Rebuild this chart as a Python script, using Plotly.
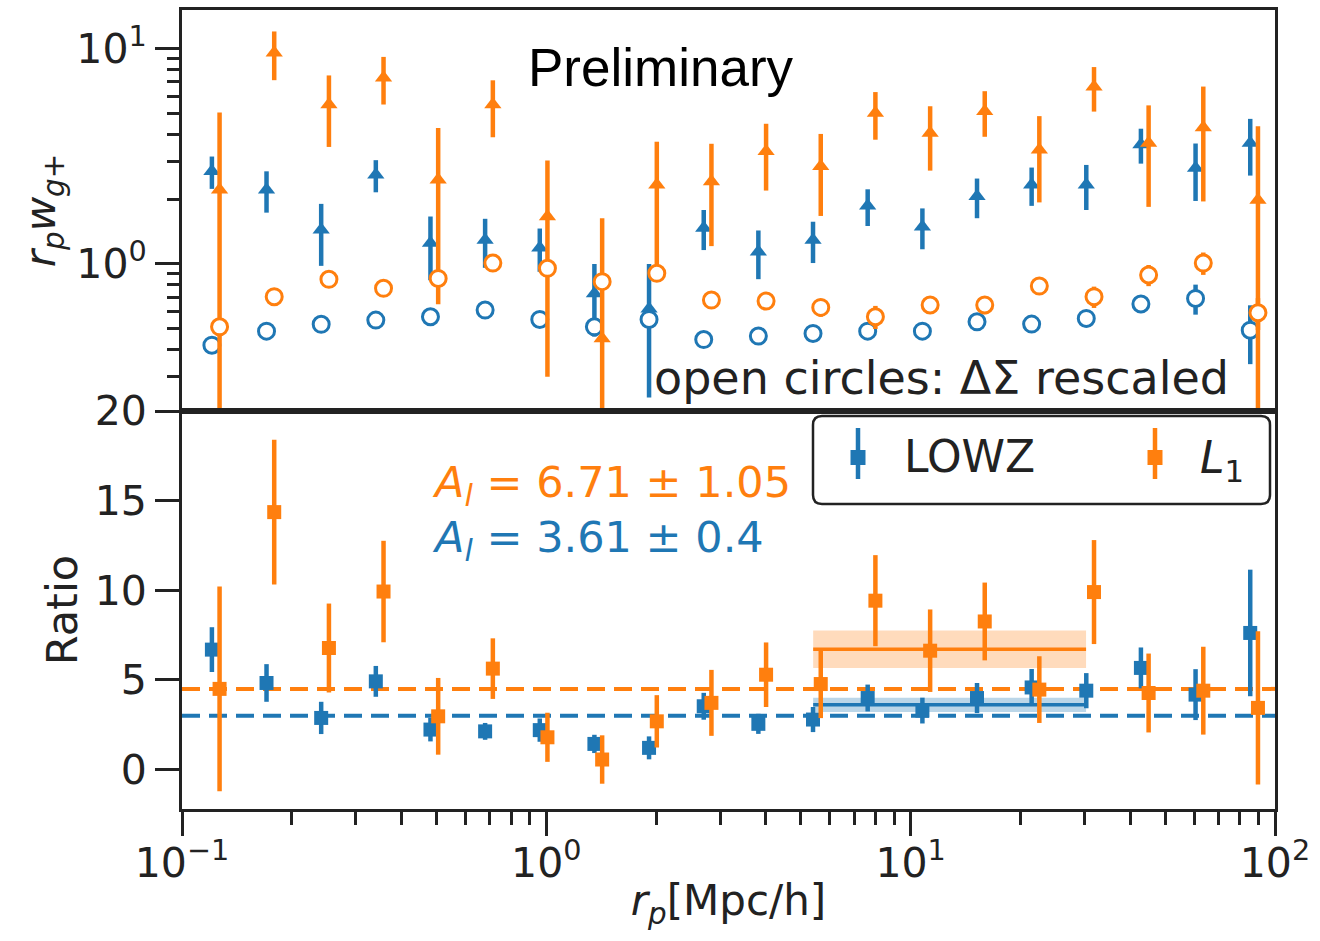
import plotly.graph_objects as go

BLUE = "#1f77b4"
ORANGE = "#ff7f0e"
INK = "#222222"
FONT = "DejaVu Sans"

# projected separation bin centres [Mpc/h]; L1 points sit slightly to the right
rp_lowz = [0.1208, 0.1706, 0.2410, 0.3404, 0.4808, 0.6792, 0.9594, 1.355, 1.914, 2.704,
           3.819, 5.395, 7.621, 10.77, 15.21, 21.48, 30.34, 42.85, 60.53, 85.51]
rp_l1 = [0.1268, 0.1791, 0.2531, 0.3574, 0.5048, 0.7132, 1.007, 1.423, 2.010, 2.839,
         4.010, 5.665, 8.002, 11.31, 15.97, 22.55, 31.86, 44.99, 63.56, 89.79]

# r_p w_g+ (filled triangles)
wgp_lowz = [2.69, 2.21, 1.44, 2.59, 1.25, 1.29, 1.19, 0.73, 0.62, 1.47,
            1.14, 1.29, 1.86, 1.49, 2.06, 2.33, 2.33, 3.58, 2.79, 3.64]
wgp_lowz_err = [0.46, 0.48, 0.46, 0.44, 0.41, 0.33, 0.27, 0.27, 0.38, 0.31,
                0.29, 0.28, 0.36, 0.32, 0.43, 0.47, 0.55, 0.66, 0.83, 1.07]
wgp_l1 = [2.21, 9.55, 5.49, 7.31, 2.46, 5.49, 1.66, 0.451, 2.33, 2.41,
          3.33, 2.84, 5.02, 4.05, 5.11, 3.39, 6.64, 3.64, 4.30, 1.98]
wgp_l1_err = [2.83, 2.43, 2.00, 1.82, 1.81, 1.62, 1.36, 1.18, 1.36, 1.20,
              1.14, 1.17, 1.25, 1.34, 1.22, 1.46, 1.55, 1.80, 2.35, 2.37]

# Delta Sigma rescaled (open circles)
ds_lowz = [0.420, 0.488, 0.525, 0.549, 0.569, 0.611, 0.553, 0.511, 0.553, 0.446,
           0.463, 0.476, 0.488, 0.488, 0.539, 0.526, 0.559, 0.652, 0.692, 0.493]
ds_lowz_err = [0.02, 0.02, 0.02, 0.02, 0.02, 0.02, 0.02, 0.02, 0.02, 0.02,
               0.02, 0.02, 0.02, 0.02, 0.03, 0.03, 0.05, 0.06, 0.11, 0.15]
ds_l1 = [0.511, 0.705, 0.849, 0.771, 0.857, 1.010, 0.955, 0.828, 0.905, 0.680,
         0.673, 0.629, 0.569, 0.645, 0.645, 0.790, 0.705, 0.889, 1.010, 0.594]
ds_l1_err = [0.04, 0.06, 0.05, 0.06, 0.06, 0.05, 0.07, 0.06, 0.06, 0.04,
             0.04, 0.06, 0.07, 0.05, 0.06, 0.05, 0.08, 0.10, 0.12, 0.10]

# ratio w_g+ / Delta Sigma (filled squares)
ratio_lowz = [6.69, 4.83, 2.88, 4.92, 2.23, 2.13, 2.20, 1.43, 1.21, 3.53,
              2.55, 2.79, 3.99, 3.29, 3.99, 4.58, 4.40, 5.67, 4.18, 7.62]
ratio_lowz_err = [1.25, 1.05, 0.90, 0.86, 0.66, 0.47, 0.65, 0.51, 0.64, 0.75,
                  0.56, 0.70, 0.75, 0.72, 0.84, 1.03, 0.98, 1.14, 1.42, 3.53]
ratio_l1 = [4.50, 14.36, 6.78, 9.93, 2.97, 5.63, 1.80, 0.56, 2.69, 3.72,
            5.29, 4.77, 9.42, 6.63, 8.26, 4.46, 9.90, 4.27, 4.40, 3.44]
ratio_l1_err = [5.71, 4.04, 2.48, 2.83, 2.14, 1.69, 1.37, 1.35, 1.46, 1.84,
                1.80, 1.90, 2.54, 2.30, 2.17, 1.86, 2.90, 2.20, 2.45, 4.27]

# amplitude fits over the large-scale range, and reference levels
fit_range = [5.4, 30.3]
A_lowz, A_lowz_err = 3.61, 0.4
A_l1, A_l1_err = 6.71, 1.05
ref_lowz = 3.0
ref_l1 = 4.5
x_full = [0.1, 100.0]

# ---- page geometry (pixels) ----
W, H = 1320, 941
L, R, T, B = 182, 45, 10, 132
PW, PH = W - L - R, H - T - B
SPLIT = 411  # y pixel of the boundary between the two panels


def px(x):
    return (x - L) / PW


def py(y):
    return (H - B - y) / PH


split = py(SPLIT)

fig = go.Figure()

ERR_W = 4.5


def err(arr, color):
    return dict(type="data", array=arr, color=color, thickness=ERR_W, width=0)


# ---- top panel ----
fig.add_trace(go.Scatter(x=rp_lowz, y=wgp_lowz, mode="markers", xaxis="x", yaxis="y",
                         marker=dict(symbol="triangle-up", size=15, color=BLUE),
                         error_y=err(wgp_lowz_err, BLUE), showlegend=False))
fig.add_trace(go.Scatter(x=rp_lowz, y=ds_lowz, mode="markers", xaxis="x", yaxis="y",
                         marker=dict(symbol="circle", size=16, color="white",
                                     line=dict(color=BLUE, width=3)),
                         error_y=err(ds_lowz_err, BLUE), showlegend=False))
fig.add_trace(go.Scatter(x=rp_l1, y=wgp_l1, mode="markers", xaxis="x", yaxis="y",
                         marker=dict(symbol="triangle-up", size=15, color=ORANGE),
                         error_y=err(wgp_l1_err, ORANGE), showlegend=False))
fig.add_trace(go.Scatter(x=rp_l1, y=ds_l1, mode="markers", xaxis="x", yaxis="y",
                         marker=dict(symbol="circle", size=16, color="white",
                                     line=dict(color=ORANGE, width=3)),
                         error_y=err(ds_l1_err, ORANGE), showlegend=False))

# ---- bottom panel ----
for level, color in [(ref_l1, ORANGE), (ref_lowz, BLUE)]:
    fig.add_trace(go.Scatter(x=x_full, y=[level, level], mode="lines", xaxis="x2", yaxis="y2",
                             line=dict(color=color, width=4, dash="18px,9px"),
                             showlegend=False, hoverinfo="skip"))

for A, dA, fill, color in [(A_l1, A_l1_err, "rgba(255,127,14,0.28)", ORANGE),
                           (A_lowz, A_lowz_err, "rgba(31,119,180,0.30)", BLUE)]:
    x0, x1 = fit_range
    fig.add_trace(go.Scatter(x=[x0, x1, x1, x0, x0], y=[A - dA, A - dA, A + dA, A + dA, A - dA],
                             mode="lines", fill="toself", fillcolor=fill,
                             line=dict(width=0), xaxis="x2", yaxis="y2",
                             showlegend=False, hoverinfo="skip"))
    fig.add_trace(go.Scatter(x=fit_range, y=[A, A], mode="lines", xaxis="x2", yaxis="y2",
                             line=dict(color=color, width=3.5),
                             showlegend=False, hoverinfo="skip"))

fig.add_trace(go.Scatter(x=rp_lowz, y=ratio_lowz, mode="markers", xaxis="x2", yaxis="y2",
                         marker=dict(symbol="square", size=14, color=BLUE),
                         error_y=err(ratio_lowz_err, BLUE), name="LOWZ", showlegend=False))
fig.add_trace(go.Scatter(x=rp_l1, y=ratio_l1, mode="markers", xaxis="x2", yaxis="y2",
                         marker=dict(symbol="square", size=14, color=ORANGE),
                         error_y=err(ratio_l1_err, ORANGE), name="L1", showlegend=False))

# ---- axes ----
TICKFONT = dict(family=FONT, size=41, color=INK)
frame = dict(showline=True, linecolor=INK, linewidth=3, mirror=True, showgrid=False,
             zeroline=False, automargin=False)

minor_x = [m * 10 ** e for e in (-1, 0, 1) for m in range(2, 10)]
minor_y = [m * 10 ** e for e in (-1, 0, 1) for m in range(2, 10)]

fig.update_layout(
    width=W, height=H,
    margin=dict(l=L, r=R, t=T, b=B),
    paper_bgcolor="white", plot_bgcolor="white",
    xaxis=dict(type="log", range=[-1, 2], domain=[0, 1], anchor="y", matches="x2",
               showticklabels=False, ticks="", **frame),
    yaxis=dict(type="log", range=[-0.682, 1.178], domain=[split, 1], anchor="x",
               tickvals=[1, 10], ticktext=["10<sup>0</sup>", "10<sup>1</sup>"],
               ticks="outside", ticklen=24, tickwidth=2.5, tickcolor=INK, tickfont=TICKFONT,
               minor=dict(tickvals=minor_y, ticks="outside", ticklen=12, tickwidth=2.5,
                          tickcolor=INK),
               title=dict(text="<i>r</i><sub><i>p</i></sub><i>w</i><sub><i>g</i>+</sub>",
                          font=dict(family=FONT, size=42, color=INK), standoff=8),
               **frame),
    xaxis2=dict(type="log", range=[-1, 2], domain=[0, 1], anchor="y2",
                tickvals=[0.1, 1, 10, 100],
                ticktext=["10<sup>\u22121</sup>", "10<sup>0</sup>", "10<sup>1</sup>",
                          "10<sup>2</sup>"],
                ticks="outside", ticklen=24, tickwidth=2.5, tickcolor=INK, tickfont=TICKFONT,
                ticklabelstandoff=-8,
                minor=dict(tickvals=minor_x, ticks="outside", ticklen=13, tickwidth=2.5,
                           tickcolor=INK),
                title=dict(text="<i>r</i><sub><i>p</i></sub>[Mpc/h]",
                           font=dict(family=FONT, size=42, color=INK), standoff=0),
                **frame),
    yaxis2=dict(range=[-2.2, 20], domain=[0, split], anchor="x2",
                tickvals=[0, 5, 10, 15, 20],
                ticks="outside", ticklen=24, tickwidth=2.5, tickcolor=INK, tickfont=TICKFONT,
                title=dict(text="Ratio", font=dict(family=FONT, size=43, color=INK),
                           standoff=4),
                **frame),
)

# ---- text ----
ann = []
ann.append(dict(text="Preliminary", x=px(661), y=py(67), xref="paper", yref="paper",
                xanchor="center", yanchor="middle", showarrow=False,
                font=dict(family="Liberation Sans, Arial", size=53, color="black")))
ann.append(dict(text="open circles: \u0394\u03a3 rescaled", x=px(652), y=py(378),
                xref="paper", yref="paper", xanchor="left", yanchor="middle",
                showarrow=False, font=dict(family=FONT, size=46, color=INK)))
ann.append(dict(text=f"<i>A</i><sub><i>l</i></sub> = {A_l1} \u00b1 {A_l1_err}",
                x=px(430), y=py(485), xref="paper", yref="paper", xanchor="left",
                yanchor="middle", showarrow=False, font=dict(family=FONT, size=43, color=ORANGE)))
ann.append(dict(text=f"<i>A</i><sub><i>l</i></sub> = {A_lowz} \u00b1 {A_lowz_err}",
                x=px(430), y=py(540), xref="paper", yref="paper", xanchor="left",
                yanchor="middle", showarrow=False, font=dict(family=FONT, size=43, color=BLUE)))

# ---- legend box ----
lx0, lx1, ly0, ly1, rad = 813, 1270, 416, 504, 9
rx, ry = rad / PW, rad / PH
X0, X1, Y0, Y1 = px(lx0), px(lx1), py(ly1), py(ly0)
path = (f"M {X0 + rx} {Y1} L {X1 - rx} {Y1} Q {X1} {Y1} {X1} {Y1 - ry} "
        f"L {X1} {Y0 + ry} Q {X1} {Y0} {X1 - rx} {Y0} L {X0 + rx} {Y0} "
        f"Q {X0} {Y0} {X0} {Y0 + ry} L {X0} {Y1 - ry} Q {X0} {Y1} {X0 + rx} {Y1} Z")
shapes = [dict(type="path", path=path, xref="paper", yref="paper",
               line=dict(color=INK, width=2.5), fillcolor="white", layer="above")]
for cx, color in [(858, BLUE), (1155, ORANGE)]:
    shapes.append(dict(type="line", xref="paper", yref="paper", x0=px(cx), x1=px(cx),
                       y0=py(428), y1=py(479), line=dict(color=color, width=ERR_W),
                       layer="above"))
    shapes.append(dict(type="rect", xref="paper", yref="paper", x0=px(cx - 7.5),
                       x1=px(cx + 7.5), y0=py(465), y1=py(450), fillcolor=color,
                       line=dict(width=0), layer="above"))
ann.append(dict(text="LOWZ", x=px(902), y=py(457), xref="paper", yref="paper",
                xanchor="left", yanchor="middle", showarrow=False,
                font=dict(family=FONT, size=44, color=INK)))
ann.append(dict(text="<i>L</i><sub>1</sub>", x=px(1198), y=py(460), xref="paper", yref="paper",
                xanchor="left", yanchor="middle", showarrow=False,
                font=dict(family=FONT, size=44, color=INK)))

fig.update_layout(annotations=ann, shapes=shapes)

fig.write_html("out.html")
